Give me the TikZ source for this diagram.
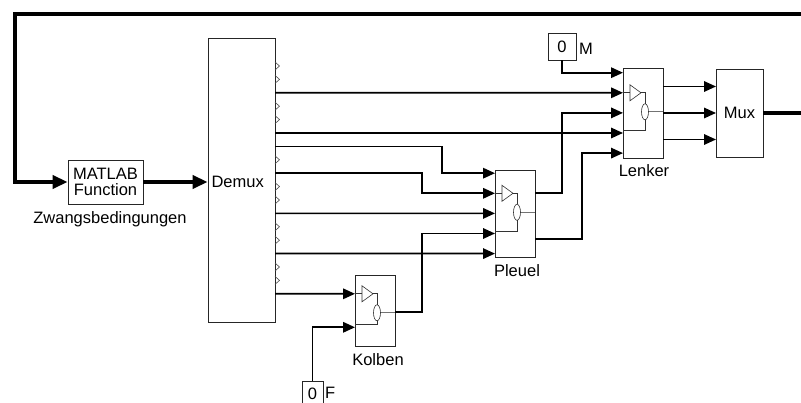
\documentclass[tikz,border=0pt]{standalone}
\usepackage{fontspec}
\setmainfont{Liberation Sans}
\usetikzlibrary{arrows.meta}
\tikzset{
  blk/.style={draw=black!85,line width=0.8pt,fill=white,inner sep=0pt},
  lbl/.style={font=\fontsize{16.5}{16}\selectfont},
  wire/.style={line width=1.7pt,-{Triangle[length=12pt,width=10.5pt]}},
  bus/.style={line width=4.5pt,-{Triangle[length=15pt,width=13pt]}},
  port/.style={draw=black!70,line width=0.6pt}
}
\newcommand\gainsym[3]{%
  \begin{scope}[shift={(#1,#2)},draw=black!80,line width=0.6pt]
    \draw (0,0) -- (7,0);
    \draw (7,-8) -- (18,0) -- (7,8) -- cycle;
    \draw (18,0) -| (22,11);
    \draw (22,19) ellipse [x radius=3.5,y radius=8];
    \draw[black!55] (25.5,19) -- (40,19);
    \draw (22,27) |- (0,{#3-#2});
  \end{scope}}

\begin{document}
\begin{tikzpicture}[x=1pt,y=-1pt]
    \useasboundingbox (0,0) rectangle (801,403);
    \clip (0,0) rectangle (801,403);
    \node[blk,lbl,align=center,minimum width=75pt,minimum height=44pt] (fcn) at (105.5,182) {MATLAB\\Function};
    \node[lbl] (fcnL) at (110,219) {Zwangsbedingungen};
    \node[blk,minimum width=67pt,minimum height=284pt] (demux) at (241.5,180) {};
    \node[lbl,anchor=west] (demuxL) at (208,182) {Demux};
    \node[blk,minimum width=40pt,minimum height=71pt] (kolben) at (375,310.5) {};
    \node[blk,minimum width=40pt,minimum height=87pt] (pleuel) at (515,213.5) {};
    \node[blk,minimum width=40pt,minimum height=90pt] (lenker) at (643,113) {};
    \node[blk,lbl,minimum width=47pt,minimum height=88pt] (mux) at (739.5,113) {Mux};
    \node[blk,lbl,minimum width=28pt,minimum height=27pt] (constM) at (562,46.5) {0};
    \node[blk,lbl,minimum width=21pt,minimum height=24pt] (constF) at (312.5,393.5) {0};
    \node[lbl,anchor=west,inner sep=0pt] (constML) at (579,49) {M};
    \node[lbl,anchor=west,inner sep=0pt] (constFL) at (325,393) {F};
    \node[lbl] (kolbenL) at (378,360) {Kolben};
    \node[lbl] (pleuelL) at (517,271) {Pleuel};
    \node[lbl] (lenkerL) at (644,171) {Lenker};
    \gainsym{355}{293.8}{324}
    \gainsym{495}{193.3}{231}
    \gainsym{623}{92.8}{130}
    \foreach \k in {1,2,4,5,8,10,11,13,14,16,17}
        \draw[port] (275,{66+13.4*(\k-1)-4}) -- ++(4.5,4) -- ++(-4.5,4);
    \foreach \k in {3,6,7,9,12,15,18}
        \coordinate (d\k) at (275,{66+13.4*(\k-1)});
    \foreach \k in {1,...,5} {
        \coordinate (l\k) at (623,{72.7+20.1*(\k-1)});
        \coordinate (p\k) at (495,{173.2+20.1*(\k-1)});
    }
    \foreach \k/\y in {1/86.5,2/113,3/139.5} {
        \coordinate (lo\k) at (663,\y);
        \coordinate (m\k) at (716,\y);
    }
    \coordinate (k1) at (355,293.8);
    \coordinate (k2) at (355,327.3);
    \coordinate (ko) at (395,312);
    \coordinate (po1) at (535,193);
    \coordinate (po2) at (535,239);
    \coordinate (fbR) at (810,14);
    \coordinate (outR) at (810,113);
    \draw[bus] (fbR) -- (15,14) |- (fcn.west);
    \draw[bus] (fcn.east) -- (fcn.east -| demux.west);
    \draw[bus,-] (mux.east) -- (outR);
    \draw[wire] (d3) -- (l2);
    \draw[wire] (d6) -- (l4);
    \draw[wire] (d7) -- ++(167,0) |- (p1);
    \draw[wire] (d9) -- ++(147,0) |- (p2);
    \draw[wire] (d12) -- (p3);
    \draw[wire] (d15) -- (p5);
    \draw[wire] (d18) -- (k1);
    \draw[wire] (ko) -- ++(27,0) |- (p4);
    \draw[wire] (po1) -- ++(27,0) |- (l3);
    \draw[wire] (po2) -- ++(47,0) |- (l5);
    \draw[wire] (constM.south) |- (l1);
    \draw[wire] (constF.north) |- (k2);
    \foreach \k in {1,2,3}
        \draw[wire] (lo\k) -- (m\k);
\end{tikzpicture}
\end{document}
